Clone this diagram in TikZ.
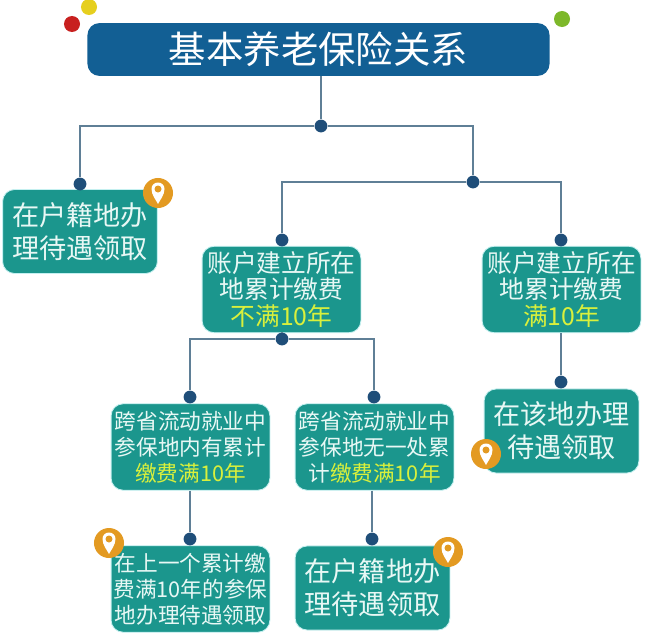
\documentclass[tikz,border=0pt]{standalone}
\usepackage{fontspec}
\setmainfont{Noto Sans CJK SC}
\definecolor{navy}{HTML}{125F94}
\definecolor{tealbox}{HTML}{1B968D}
\definecolor{glow}{HTML}{C4F0F0}
\definecolor{paletext}{HTML}{E8F8F5}
\definecolor{limetext}{HTML}{D9F03C}
\definecolor{wire}{HTML}{5F7F96}
\definecolor{dotblue}{HTML}{1F4E79}
\definecolor{pinorange}{HTML}{E39A22}
\definecolor{ballred}{HTML}{C8201F}
\definecolor{ballyellow}{HTML}{E6CF1E}
\definecolor{ballgreen}{HTML}{7DB82A}
\tikzset{locpin/.pic={
\node[circle,fill=pinorange,minimum size=0.75cm,inner sep=0pt] (-disc) at (0,0) {};
\fill[white] (0,11) .. controls (-2,7) and (-6.5,2) .. (-6.5,-4) .. controls (-6.5,-8) and (-3.5,-10.5) .. (0,-10.5) .. controls (3.5,-10.5) and (6.5,-8) .. (6.5,-4) .. controls (6.5,2) and (2,7) .. (0,11) -- cycle;
\fill[pinorange] (0,-4) circle (3.5);
}}
\begin{document}
\begin{tikzpicture}[x=0.025cm,y=-0.025cm,
box/.style={rectangle,rounded corners=0.3cm,fill=tealbox,draw=glow,line width=0.6pt,text=paletext,align=center,inner sep=0pt},
bigbox/.style={box,minimum width=3.87cm,minimum height=2.1cm,font=\fontsize{19.3}{23.5}\selectfont},
midbox/.style={box,minimum width=3.97cm,minimum height=2.16cm,font=\fontsize{17.6}{19}\selectfont},
smallbox/.style={midbox,font=\fontsize{15.4}{18.4}\selectfont},
dot/.style={circle,fill=dotblue,minimum size=0.32cm,inner sep=0pt},
ball/.style={circle,minimum size=0.4cm,inner sep=0pt},
link/.style={draw=wire,line width=1.1pt}]
\useasboundingbox (0,0) rectangle (646,638);
\fill[white] (0,0) rectangle (646,638);
% header
\node[ball,fill=ballred] (red) at (72,24) {};
\node[ball,fill=ballyellow] (yellow) at (89,7) {};
\node[ball,fill=ballgreen] (green) at (562,19) {};
\node[rectangle,rounded corners=0.3cm,fill=navy,text=white,minimum width=11.55cm,minimum height=1.32cm,inner sep=0pt,font=\fontsize{26.6}{30}\selectfont] (title) at (318.5,49.5) {基本养老保险关系};
% boxes
\node[bigbox] (hukou) at (80,231.5) {在户籍地办\\理待遇领取};
\node[midbox] (under) at (281.5,289.5) {账户建立所在\\地累计缴费\\\textcolor{limetext}{不满10年}};
\node[midbox] (full) at (561.5,289.5) {账户建立所在\\地累计缴费\\\textcolor{limetext}{满10年}};
\node[smallbox] (has) at (190.5,447) {跨省流动就业中\\参保地内有累计\\\textcolor{limetext}{缴费满10年}};
\node[smallbox] (none) at (374.5,447) {跨省流动就业中\\参保地无一处累\\计\textcolor{limetext}{缴费满10年}};
\node[smallbox] (last) at (190.5,589) {在上一个累计缴\\费满10年的参保\\地办理待遇领取};
\node[bigbox] (home) at (372.5,588) {在户籍地办\\理待遇领取};
\node[bigbox] (here) at (561.5,431) {在该地办理\\待遇领取};
% junctions
\node[dot] (jtop) at (321,126) {};
\node[dot] (jhukou) at (80,184) {};
\node[dot] (jright) at (473,182) {};
\node[dot] (junder) at (282,240) {};
\node[dot] (jfull) at (561,240) {};
\node[dot] (jsplit) at (282,339) {};
\node[dot] (jhas) at (190,397) {};
\node[dot] (jnone) at (374,397) {};
\node[dot] (jlast) at (190,539) {};
\node[dot] (jhome) at (372,539) {};
\node[dot] (jhere) at (561,382) {};
% wires
\draw[link] (jtop |- title.south) -- (jtop);
\draw[link] (jtop) -| (jhukou);
\draw[link] (jtop) -| (jright);
\draw[link] (jright) -| (junder);
\draw[link] (jright) -| (jfull);
\draw[link] (jsplit |- under.south) -- (jsplit);
\draw[link] (jsplit) -| (jhas);
\draw[link] (jsplit) -| (jnone);
\draw[link] (jlast |- has.south) -- (jlast);
\draw[link] (jhome |- none.south) -- (jhome);
\draw[link] (jhere |- full.south) -- (jhere);
% pins
\pic (pinA) at (158,193) {locpin};
\pic (pinB) at (109,543) {locpin};
\pic (pinC) at (448,552) {locpin};
\pic (pinD) at (486,454) {locpin};
\end{tikzpicture}
\end{document}
